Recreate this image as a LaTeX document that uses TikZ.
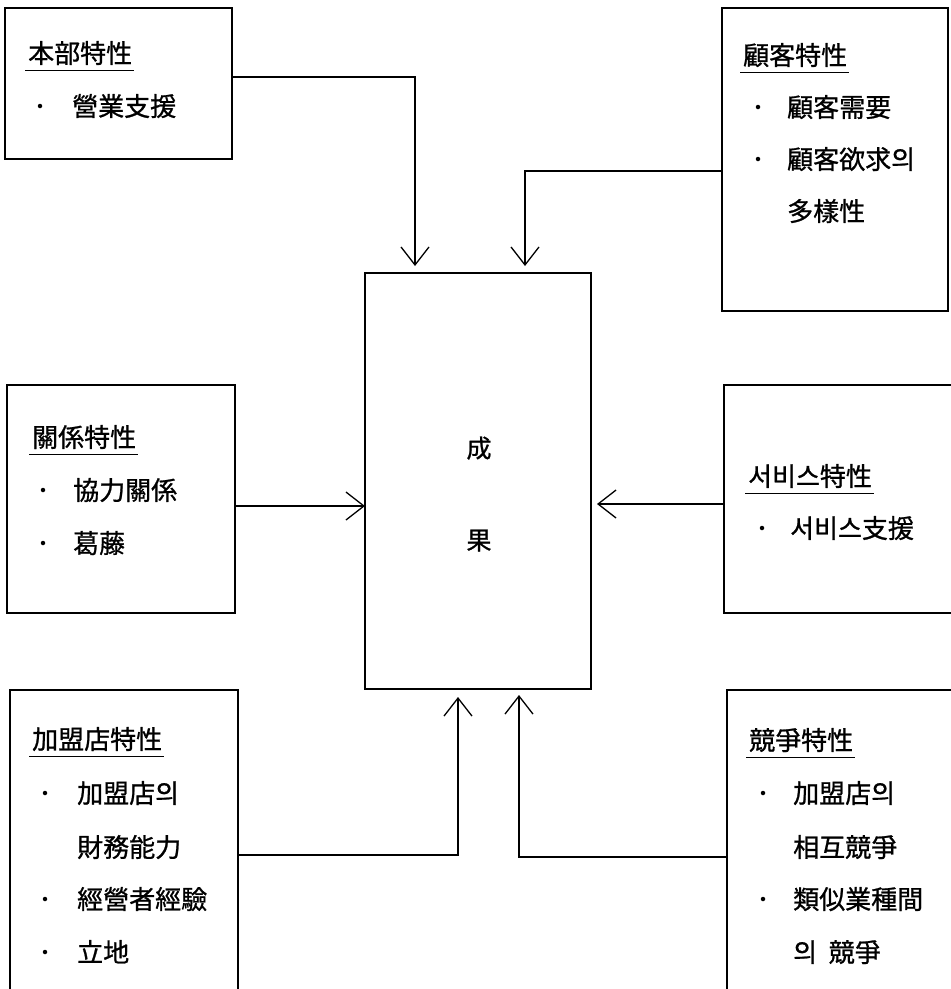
\documentclass[tikz,border=0pt]{standalone}
\usepackage{fontspec}
\newfontfamily\kr[RawFeature={embolden=0.9}]{Noto Sans CJK KR}
\usetikzlibrary{arrows.meta}
\begin{document}
\begin{tikzpicture}[x=1pt,y=-1pt,
  box/.style={draw, line width=1.3pt, anchor=north west, inner sep=0pt, outer sep=0pt},
  txt/.style={font=\kr\fontsize{26}{30}\selectfont, anchor=west, inner sep=0pt, text height=22.9pt, text depth=3.1pt},
  ctxt/.style={font=\kr\fontsize{25}{30}\selectfont, anchor=center, inner sep=0pt, text height=22pt, text depth=3pt},
  uline/.style={line width=1.3pt},
  dot/.style={circle, fill, inner sep=0pt, minimum size=4.5pt},
  arr/.style={line width=1.3pt, -{Straight Barb[length=18pt,width=28pt]}}]
\useasboundingbox (0,0) rectangle (951,989);
\clip (0,0) rectangle (951,989);
\fill[white] (0,0) rectangle (951,989);
% boxes
\node[box, minimum width=227pt, minimum height=151pt] (hq) at (5,8) {};
\node[box, minimum width=226pt, minimum height=303pt] (cu) at (722,8) {};
\node[box, minimum width=228pt, minimum height=228pt] (rel) at (7,385) {};
\node[box, minimum width=240pt, minimum height=228pt] (svc) at (724,385) {};
\node[box, minimum width=228pt, minimum height=320pt] (fr) at (10,690) {};
\node[box, minimum width=240pt, minimum height=320pt] (cp) at (727,690) {};
\node[box, minimum width=226pt, minimum height=416pt] (ctr) at (365,273) {};
% center text
\node[ctxt] (c1) at (479,448) {成};
\node[ctxt] (c2) at (479,540) {果};
% HQ
\node[txt] (t1) at (28,53) {本部特性};
\draw[uline] ([xshift=-3pt,yshift=-4.5pt]t1.south west) -- ([xshift=2pt,yshift=-4.5pt]t1.south east);
\node[dot] (d11) at (40,106) {};
\node[txt] (i11) at (72,106) {營業支援};
% customer
\node[txt] (t2) at (743,55) {顧客特性};
\draw[uline] ([xshift=-3pt,yshift=-4.5pt]t2.south west) -- ([xshift=2pt,yshift=-4.5pt]t2.south east);
\node[dot] (d21) at (758,107) {};
\node[txt] (i21) at (787,107) {顧客需要};
\node[dot] (d22) at (758,159) {};
\node[txt] (i22) at (787,159) {顧客欲求의};
\node[txt] (i23) at (787,211) {多樣性};
% relation
\node[txt] (t3) at (32,437) {關係特性};
\draw[uline] ([xshift=-3pt,yshift=-4.5pt]t3.south west) -- ([xshift=2pt,yshift=-4.5pt]t3.south east);
\node[dot] (d31) at (43,490) {};
\node[txt] (i31) at (73,490) {協力關係};
\node[dot] (d32) at (43,543) {};
\node[txt] (i32) at (73,543) {葛藤};
% service
\node[txt] (t4) at (748,476) {서비스特性};
\draw[uline] ([xshift=-3pt,yshift=-4.5pt]t4.south west) -- ([xshift=2pt,yshift=-4.5pt]t4.south east);
\node[dot] (d41) at (762,528) {};
\node[txt] (i41) at (790,528) {서비스支援};
% franchise
\node[txt] (t5) at (32,739) {加盟店特性};
\draw[uline] ([xshift=-3pt,yshift=-4.5pt]t5.south west) -- ([xshift=2pt,yshift=-4.5pt]t5.south east);
\node[dot] (d51) at (45,793) {};
\node[txt] (i51) at (77,793) {加盟店의};
\node[txt] (i52) at (77,847) {財務能力};
\node[dot] (d53) at (45,899) {};
\node[txt] (i53) at (77,899) {經營者經驗};
\node[dot] (d54) at (45,952) {};
\node[txt] (i54) at (77,952) {立地};
% competition
\node[txt] (t6) at (749,740) {競爭特性};
\draw[uline] ([xshift=-3pt,yshift=-4.5pt]t6.south west) -- ([xshift=2pt,yshift=-4.5pt]t6.south east);
\node[dot] (d61) at (763,793) {};
\node[txt] (i61) at (793,793) {加盟店의};
\node[txt] (i62) at (793,847) {相互競爭};
\node[dot] (d63) at (763,899) {};
\node[txt] (i63) at (793,899) {類似業種間};
\node[txt] (i64) at (793,952) {의\ \ 競爭};
% connectors
\coordinate (k1) at (415,77);
\coordinate (k2) at (525,171);
\coordinate (k3) at (365,506);
\coordinate (k4) at (591,504);
\coordinate (k5) at (458,855);
\coordinate (k6) at (519,857);
\draw[arr, shorten >=7pt] (hq.east |- k1) -| (k1 |- ctr.north);
\draw[arr, shorten >=7pt] (cu.west |- k2) -| (k2 |- ctr.north);
\draw[arr] (rel.east |- k3) -- (ctr.west |- k3);
\draw[arr, shorten >=6pt] (svc.west |- k4) -- (ctr.east |- k4);
\draw[arr, shorten >=8pt] (fr.east |- k5) -| (k5 |- ctr.south);
\draw[arr, shorten >=6pt] (cp.west |- k6) -| (k6 |- ctr.south);
\end{tikzpicture}
\end{document}
